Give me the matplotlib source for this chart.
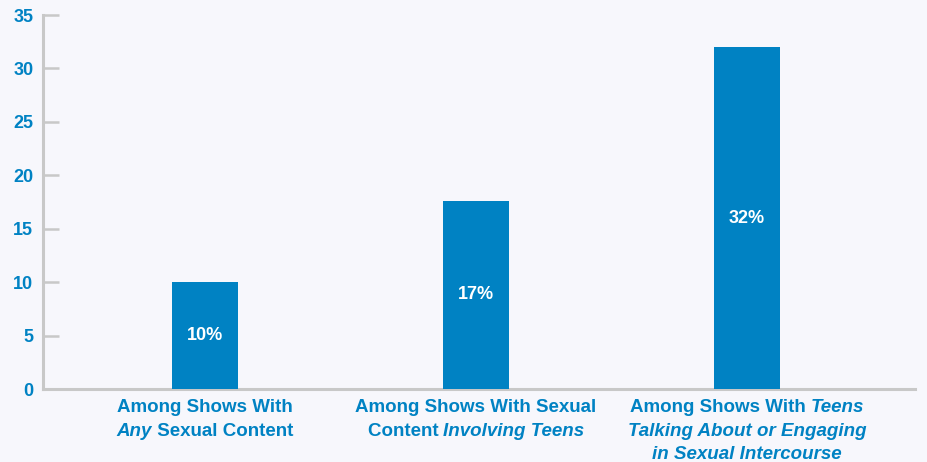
import matplotlib
matplotlib.use('Agg')
from matplotlib import pyplot as plt
from matplotlib.offsetbox import TextArea, HPacker, VPacker, AnnotationBbox

# data
categories = ['Any', 'Involving Teens', 'Teens Talking']
values     = [10.0, 17.6, 32.0]
bar_labels = ['10%', '17%', '32%']

# category labels: list of lines, each line a list of (text, italic)
cat_lines = [
    [[('Among Shows With', False)],
     [('Any', True), (' Sexual Content', False)]],
    [[('Among Shows With Sexual', False)],
     [('Content ', False), ('Involving Teens', True)]],
    [[('Among Shows With ', False), ('Teens', True)],
     [('Talking About or Engaging', True)],
     [('in Sexual Intercourse', True)]],
]

yticks = [0, 5, 10, 15, 20, 25, 30, 35]

blue = '#0082c3'
grey = '#c8c8c8'
bg   = '#f7f7fc'
font = 'Liberation Sans'

fig = plt.figure(figsize=(9.28, 4.62), dpi=100)
fig.patch.set_facecolor(bg)
ax = fig.add_axes([43/928, 73/462, 872/928, 374/462])
ax.set_facecolor(bg)

x = list(range(len(values)))
ax.bar(x, values, width=0.2435, color=blue, zorder=3)

for i, (v, lab) in enumerate(zip(values, bar_labels)):
    ax.text(i, v / 2, lab, ha='center', va='center', color='white',
            fontsize=13, fontweight='bold', family=font, zorder=4)

ax.set_xlim(-0.598, 2.62)
ax.set_ylim(0, 35)
ax.set_yticks(yticks)
ax.set_xticks([])
for side in ['top', 'right']:
    ax.spines[side].set_visible(False)
for side in ['left', 'bottom']:
    ax.spines[side].set_color(grey)
    ax.spines[side].set_linewidth(2.2)
ax.tick_params(axis='y', direction='in', length=11.5, width=1.8, color=grey,
               pad=7, labelcolor=blue, labelsize=13)
for t in ax.get_yticklabels():
    t.set_fontweight('bold')
    t.set_family(font)

for i, lines in enumerate(cat_lines):
    rows = []
    for line in lines:
        parts = [TextArea(txt, textprops=dict(color=blue, fontsize=13.5, fontweight='bold',
                                              family=font,
                                              style='italic' if it else 'normal'))
                 for txt, it in line]
        rows.append(HPacker(children=parts, align='baseline', pad=0, sep=0))
    box = VPacker(children=rows, align='center', pad=0, sep=4.5)
    ab = AnnotationBbox(box, (i, 0), xycoords='data', xybox=(0, -7.5),
                        boxcoords='offset points', box_alignment=(0.5, 1),
                        frameon=False, annotation_clip=False)
    ax.add_artist(ab)

plt.savefig('out.png', facecolor=bg)
